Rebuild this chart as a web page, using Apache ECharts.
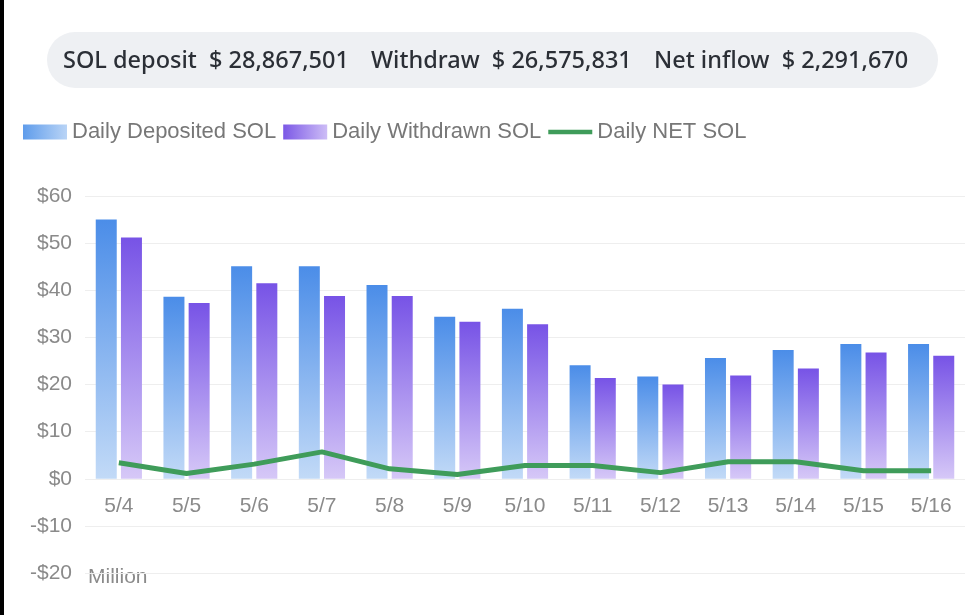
<!DOCTYPE html>
<html>
<head>
<meta charset="utf-8">
<script src="https://cdn.jsdelivr.net/npm/echarts@6/dist/echarts.min.js"></script>
<style>
html,body{margin:0;padding:0;background:#fff;}
#wrap{position:relative;width:973px;height:615px;overflow:hidden;}
#chart{position:absolute;left:0;top:0;width:973px;height:615px;}
#edge{position:absolute;left:0;top:0;width:4px;height:615px;background:#000;}
</style>
</head>
<body>
<div id="wrap"><div id="chart"></div><div id="edge"></div></div>
<script>
const categories = ['5/4','5/5','5/6','5/7','5/8','5/9','5/10','5/11','5/12','5/13','5/14','5/15','5/16'];
const deposited = [55.0, 38.6, 45.1, 45.1, 41.1, 34.4, 36.1, 24.1, 21.7, 25.6, 27.3, 28.6, 28.6];
const withdrawn = [51.2, 37.3, 41.5, 38.8, 38.8, 33.3, 32.8, 21.4, 20.0, 21.9, 23.4, 26.8, 26.1];
const netFlow   = [3.4, 1.1, 3.1, 5.7, 2.1, 0.9, 2.8, 2.8, 1.3, 3.6, 3.6, 1.7, 1.7];
const seriesNames = ['Daily Deposited SOL', 'Daily Withdrawn SOL', 'Daily NET SOL'];
const summaryText = ['SOL deposit  $ 28,867,501', 'Withdraw  $ 26,575,831', 'Net inflow  $ 2,291,670'];
const yMin = -20, yMax = 60, yStep = 10;
const unitLabel = 'Million';

const chart = echarts.init(document.getElementById('chart'));
const vgrad = (top, bottom) => ({type:'linear', x:0, y:0, x2:0, y2:1,
  colorStops:[{offset:0,color:top},{offset:1,color:bottom}]});
const hgrad = (a, b) => ({type:'linear', x:0, y:0, x2:1, y2:0,
  colorStops:[{offset:0,color:a},{offset:1,color:b}]});
const FONT = '"Liberation Sans", Arial, sans-serif';
const TFONT = '500 23.5px "Noto Sans", sans-serif';

const gridTop = 196, gridBottom = 42, chartH = 615;
const plotH = chartH - gridTop - gridBottom;
// distance from the bottom of the plot up to the zero line, derived from the axis range
const zeroOffset = plotH * (0 - yMin) / (yMax - yMin);

chart.setOption({
  backgroundColor: '#ffffff',
  animation: false,
  graphic: [
    {type:'rect', left:47, top:32, shape:{width:891, height:56, r:28},
     style:{fill:'#eef0f3'}},
    {type:'text', x:63, y:61, style:{text:summaryText[0], font:TFONT, fill:'#2b2f36', verticalAlign:'middle'}},
    {type:'text', x:371, y:61, style:{text:summaryText[1], font:TFONT, fill:'#2b2f36', verticalAlign:'middle'}},
    {type:'text', x:654, y:61, style:{text:summaryText[2], font:TFONT, fill:'#2b2f36', verticalAlign:'middle'}},
    {type:'text', x:88, y:577, style:{text:unitLabel, font:'21px ' + FONT, fill:'#8a8a8a', verticalAlign:'middle'}}
  ],
  legend: {
    left: 23, top: 121, padding: 0, itemWidth: 44, itemHeight: 15, itemGap: 7,
    textStyle: {fontFamily: FONT, fontSize: 22, color: '#777'},
    data: [
      {name: seriesNames[0], icon:'rect', itemStyle:{color: hgrad('#5f9ceb','#b9d4f6')}},
      {name: seriesNames[1], icon:'rect', itemStyle:{color: hgrad('#7b58e6','#cdbdf6')}},
      {name: seriesNames[2], icon:'path://M0,0 L50,0 L50,5 L0,5 Z', itemStyle:{color:'#3f9c5a'}}
    ]
  },
  grid: {left: 85, right: 8, top: gridTop, bottom: gridBottom, containLabel: false},
  xAxis: {
    type: 'category', data: categories, boundaryGap: true, position: 'bottom',
    offset: -zeroOffset,
    axisLine: {show: false, onZero: false}, axisTick: {show: false},
    axisLabel: {color: '#8a8a8a', fontFamily: FONT, fontSize: 21, margin: 17}
  },
  yAxis: {
    type: 'value', min: yMin, max: yMax, interval: yStep,
    axisLine: {show:false}, axisTick: {show:false},
    splitLine: {lineStyle: {color: '#eeeeee', width: 1}},
    axisLabel: {color: '#8a8a8a', fontFamily: FONT, fontSize: 21, margin: 13,
      formatter: v => v < 0 ? '-$' + (-v) : '$' + v}
  },
  series: [
    {name: seriesNames[0], type:'bar', data: deposited, barWidth: 21, barGap: '20%',
     itemStyle: {color: vgrad('#4b8de8','#c2daf7')}},
    {name: seriesNames[1], type:'bar', data: withdrawn, barWidth: 21,
     itemStyle: {color: vgrad('#7753e6','#d6c8f7')}},
    {name: seriesNames[2], type:'line', data: netFlow, symbol:'none', smooth:false,
     lineStyle: {color:'#3f9c5a', width:5}, itemStyle:{color:'#3f9c5a'}, z: 5}
  ]
});
</script>
</body>
</html>
